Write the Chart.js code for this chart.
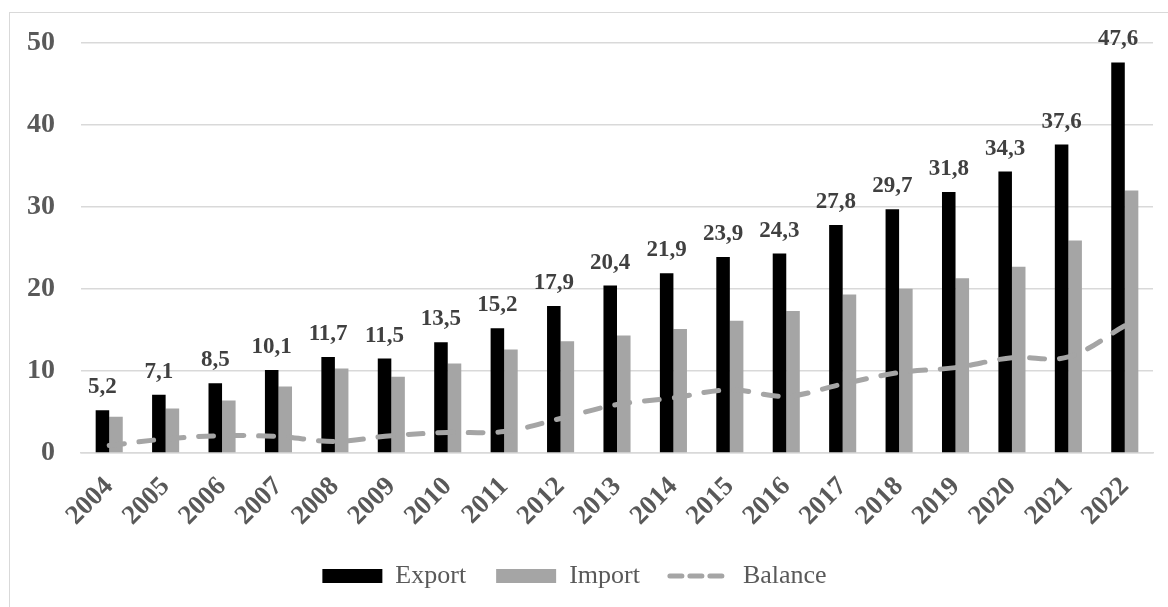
<!DOCTYPE html>
<html>
<head>
<meta charset="utf-8">
<script src="https://cdn.jsdelivr.net/npm/chart.js@4"></script>
<style>
  html, body { margin: 0; padding: 0; background: #fff; }
  #wrap { position: relative; width: 1168px; height: 607px; }
  #frame { position: absolute; left: 9px; top: 12px; right: 0; bottom: 0;
           border-left: 1.5px solid #d9d9d9; border-top: 1.5px solid #d9d9d9; }
  canvas { position: absolute; left: 0; top: 0; }
</style>
</head>
<body>
<div id="wrap">
  <div id="frame"></div>
  <canvas id="chart" width="1168" height="607"></canvas>
</div>
<script>
const years = ['2004','2005','2006','2007','2008','2009','2010','2011','2012','2013',
  '2014','2015','2016','2017','2018','2019','2020','2021','2022'];
const exportVals = [5.2, 7.1, 8.5, 10.1, 11.7, 11.5, 13.5, 15.2, 17.9, 20.4,
  21.9, 23.9, 24.3, 27.8, 29.7, 31.8, 34.3, 37.6, 47.6];
const importVals = [4.4, 5.4, 6.4, 8.1, 10.3, 9.3, 10.9, 12.6, 13.6, 14.3,
  15.1, 16.1, 17.3, 19.3, 20.0, 21.3, 22.7, 25.9, 32.0];
const balanceVals = [0.9, 1.7, 2.1, 2.0, 1.4, 2.1, 2.5, 2.6, 4.2, 5.9,
  6.7, 7.7, 6.9, 8.4, 9.8, 10.4, 11.6, 11.7, 15.5];
const yTicks = [0, 10, 20, 30, 40, 50];

const serif = "'Liberation Serif', 'Times New Roman', serif";
const grey = '#a5a5a5';

// value labels above the export bars
const barLabels = {
  id: 'barLabels',
  afterDatasetsDraw(c) {
    const ctx = c.ctx;
    const meta = c.getDatasetMeta(0);
    ctx.save();
    ctx.font = 'bold 23px ' + serif;
    ctx.fillStyle = '#404040';
    ctx.textAlign = 'center';
    ctx.textBaseline = 'alphabetic';
    meta.data.forEach((bar, i) => {
      const txt = exportVals[i].toFixed(1).replace('.', ',');
      ctx.fillText(txt, bar.x, bar.y - 17);
    });
    ctx.restore();
  }
};

// nudge the legend a bit to the left, like the original
const legendShift = {
  id: 'legendShift',
  afterLayout(c) {
    c.legend.left -= 2;
    c.legend.right -= 2;
  }
};

chart = new Chart(document.getElementById('chart').getContext('2d'), {
  data: {
    labels: years,
    datasets: [
      {
        type: 'bar',
        label: 'Export',
        data: exportVals,
        backgroundColor: '#000000',
        categoryPercentage: 0.48,
        barPercentage: 1.0,
        order: 1
      },
      {
        type: 'bar',
        label: 'Import',
        data: importVals,
        backgroundColor: grey,
        categoryPercentage: 0.48,
        barPercentage: 1.0,
        order: 1
      },
      {
        type: 'line',
        label: 'Balance',
        data: balanceVals,
        borderColor: grey,
        borderWidth: 5,
        borderDash: [15, 15],
        borderCapStyle: 'round',
        tension: 0.35,
        pointRadius: 0,
        fill: false,
        order: 0
      }
    ]
  },
  options: {
    responsive: false,
    animation: false,
    layout: { padding: { left: 0, right: 15, top: 41, bottom: 8 } },
    plugins: {
      tooltip: { enabled: false },
      legend: {
        position: 'bottom',
        labels: {
          font: { family: serif, size: 26 },
          color: '#595959',
          usePointStyle: true,
          pointStyleWidth: 60,
          boxHeight: 14,
          padding: 30,
          generateLabels(c) {
            return [
              { text: 'Export', fillStyle: '#000000', strokeStyle: '#000000', lineWidth: 0,
                pointStyle: 'rect', datasetIndex: 0, fontColor: '#595959' },
              { text: 'Import', fillStyle: grey, strokeStyle: grey, lineWidth: 0,
                pointStyle: 'rect', datasetIndex: 1, fontColor: '#595959' },
              { text: 'Balance', fillStyle: grey, strokeStyle: grey, lineWidth: 5,
                lineDash: [12, 8], lineCap: 'round', pointStyle: 'line',
                datasetIndex: 2, fontColor: '#595959' }
            ];
          }
        }
      }
    },
    scales: {
      x: {
        afterFit(s) { s.height -= 17; },
        grid: { display: false, drawTicks: false },
        border: { color: '#d9d9d9', width: 1.5 },
        ticks: {
          font: { family: serif, size: 27, weight: 'bold' },
          color: '#595959',
          minRotation: 45,
          maxRotation: 45,
          padding: 18
        }
      },
      y: {
        min: 0,
        max: 50,
        afterFit(s) { s.width = 81; },
        afterBuildTicks(s) { s.ticks = yTicks.map(v => ({ value: v })); },
        grid: { color: '#d9d9d9', lineWidth: 1.5, drawTicks: false },
        border: { display: false },
        ticks: {
          font: { family: serif, size: 28, weight: 'bold' },
          color: '#595959',
          padding: 26
        }
      }
    }
  },
  plugins: [barLabels, legendShift]
});
</script>
</body>
</html>
